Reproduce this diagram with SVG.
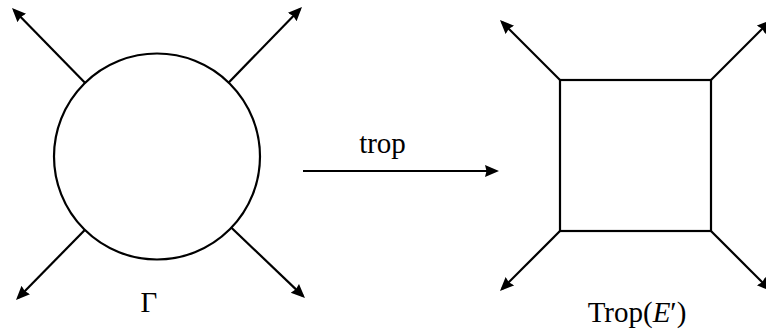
<svg xmlns="http://www.w3.org/2000/svg" width="766" height="331" viewBox="0 0 766 331">
<style>
.edge{stroke:#000;stroke-width:2.2;fill:none;marker-end:url(#ah)}
.shape{stroke:#000;stroke-width:2.2;fill:#fff}
.lbl{font-family:"Liberation Serif","DejaVu Serif",serif;font-size:29px;fill:#000;text-anchor:middle}
</style>
<defs>
<marker id="ah" markerUnits="userSpaceOnUse" markerWidth="18" markerHeight="14" refX="11" refY="6" orient="auto">
<path d="M0,0 L14,6 L0,12 L1.5,6 Z" fill="#000"/>
</marker>
</defs>
<g id="connectors">
<line class="edge" x1="157" y1="156.5" x2="14.1" y2="10.15"/>
<line class="edge" x1="157" y1="156.5" x2="299.9" y2="9.15"/>
<line class="edge" x1="157" y1="156.5" x2="18.1" y2="297.9"/>
<line class="edge" x1="157" y1="156.5" x2="302.8" y2="295.9"/>
<line class="edge" x1="560" y1="80" x2="502.1" y2="22.1"/>
<line class="edge" x1="711" y1="80" x2="768.9" y2="22.1"/>
<line class="edge" x1="560" y1="231" x2="502.1" y2="288.9"/>
<line class="edge" x1="711" y1="231" x2="768.9" y2="288.9"/>
<line class="edge" x1="303" y1="171" x2="496" y2="171"/>
<text class="lbl" x="382.5" y="153">trop</text>
</g>
<g id="gamma">
<circle class="shape" cx="157" cy="156.5" r="103"/>
<text class="lbl" x="149" y="312">Γ</text>
</g>
<g id="trop-e">
<rect class="shape" x="560" y="80" width="151" height="151"/>
<text class="lbl" x="637" y="322">Trop(<tspan font-style="italic">E</tspan>′)</text>
</g>
</svg>
